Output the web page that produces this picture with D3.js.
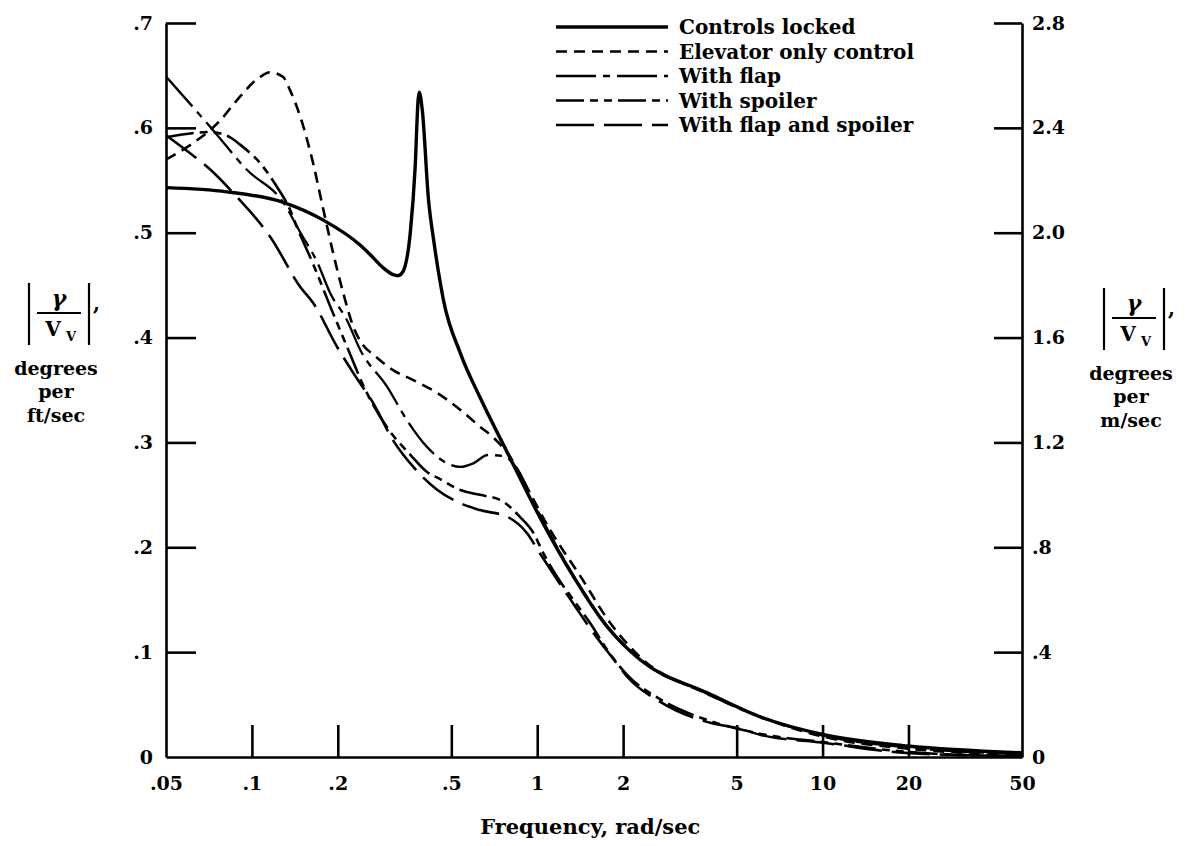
<!DOCTYPE html>
<html>
<head>
<meta charset="utf-8">
<script src="https://cdn.jsdelivr.net/npm/d3@7"></script>
<style>
  body { margin: 0; background: #fff; }
  svg { display: block; }
  .axis path, .axis line { stroke: #000; stroke-width: 2.6; }
</style>
</head>
<body>
<script>
// frequency (rad/sec) vs |gamma / V_V| (degrees per ft/sec)
var controlsLocked = [[0.05,0.543],[0.0818,0.539],[0.1287,0.529],[0.178,0.512],[0.24,0.488],[0.26,0.479],
  [0.29,0.466],[0.3125,0.460],[0.325,0.459],[0.337,0.462],[0.359,0.500],[0.3735,0.563],[0.3825,0.627],
  [0.386,0.634],[0.3955,0.617],[0.416,0.531],[0.4335,0.493],[0.4575,0.452],[0.469,0.436],[0.538,0.385],
  [0.63,0.343],[0.787,0.290],[1.02,0.229],[1.34,0.172],[1.76,0.124],[2.3,0.0925],[3.96,0.061],
  [6.08,0.038],[10.2,0.021],[19.9,0.0105],[50,0.004]];
var elevatorOnly = [[0.05,0.570],[0.0622,0.5855],[0.0774,0.607],[0.0887,0.6265],[0.1068,0.6485],[0.116,0.653],
  [0.1287,0.6485],[0.136,0.636],[0.148,0.610],[0.164,0.566],[0.178,0.522],[0.1925,0.481],[0.209,0.4425],
  [0.227,0.410],[0.245,0.393],[0.266,0.384],[0.3125,0.369],[0.368,0.3595],[0.447,0.347],[0.538,0.331],
  [0.63,0.315],[0.70,0.305],[0.80,0.287],[0.9,0.262],[1.11,0.2165],[1.42,0.172],[1.8,0.128],[2.3,0.095],
  [3.96,0.060],[6.08,0.038],[10.2,0.019],[19.9,0.008],[50,0.002]];
var withFlap = [[0.05,0.649],[0.073,0.598],[0.096,0.560],[0.1287,0.529],[0.148,0.50],[0.170,0.471],[0.188,0.4425],
  [0.215,0.417],[0.24,0.388],[0.298,0.353],[0.35,0.321],[0.41,0.296],[0.484,0.280],[0.538,0.2766],[0.597,0.280],
  [0.67,0.288],[0.76,0.287],[0.85,0.275],[1.0,0.236],[1.34,0.173],[1.76,0.125],[2.3,0.093],[3.96,0.060],
  [6.08,0.038],[10.2,0.020],[19.9,0.009],[50,0.003]];
var withSpoiler = [[0.05,0.591],[0.0713,0.596],[0.0839,0.591],[0.0909,0.584],[0.1068,0.5665],[0.1225,0.5436],
  [0.136,0.522],[0.144,0.505],[0.164,0.47],[0.188,0.43],[0.215,0.392],[0.25,0.35],[0.30,0.313],[0.36,0.288],
  [0.41,0.272],[0.457,0.265],[0.538,0.2546],[0.63,0.25],[0.743,0.245],[0.87,0.229],[0.97,0.2136],[1.05,0.1945],
  [1.175,0.1717],[1.34,0.1497],[1.53,0.128],[1.76,0.102],[2.07,0.078],[2.7,0.055],[4.07,0.034],[6.08,0.022],
  [10.2,0.014],[17.8,0.006],[30,0.002],[50,0.001]];
var flapAndSpoiler = [[0.05,0.593],[0.0606,0.576],[0.0713,0.5605],[0.0887,0.534],[0.1068,0.509],[0.116,0.496],
  [0.148,0.448],[0.164,0.433],[0.199,0.391],[0.227,0.366],[0.266,0.3376],[0.3125,0.302],[0.368,0.2766],
  [0.447,0.2546],[0.538,0.242],[0.63,0.2355],[0.787,0.229],[0.92,0.2136],[1.02,0.1945],[1.175,0.169],
  [1.34,0.146],[1.53,0.123],[1.86,0.0925],[2.07,0.0763],[2.7,0.0525],[4.07,0.0324],[5.0,0.0277],[6.08,0.021],
  [10.2,0.0134],[17.8,0.0048],[29,0.002],[50,0.001]];

var seriesNames = ["Controls locked", "Elevator only control", "With  flap", "With spoiler", "With flap and spoiler"];
var seriesData = [controlsLocked, elevatorOnly, withFlap, withSpoiler, flapAndSpoiler];

var xTicks = [0.05, 0.1, 0.2, 0.5, 1, 2, 5, 10, 20, 50];
var xTickLabels = [".05", ".1", ".2", ".5", "1", "2", "5", "10", "20", "50"];
var yTicks = [0, 0.1, 0.2, 0.3, 0.4, 0.5, 0.6, 0.7];
var yTickLabels = ["0", ".1", ".2", ".3", ".4", ".5", ".6", ".7"];
var yRightTicks = [0, 0.4, 0.8, 1.2, 1.6, 2.0, 2.4, 2.8];
var yRightTickLabels = ["0", ".4", ".8", "1.2", "1.6", "2.0", "2.4", "2.8"];

var width = 1190, height = 846;
var margin = {top: 23, right: 168, bottom: 89, left: 166};
var innerWidth = width - margin.left - margin.right;
var innerHeight = height - margin.top - margin.bottom;
var font = "DejaVu Serif, serif";

var styles = [
  {dash: null, w: 3.4},
  {dash: "11,7", w: 2.6},
  {dash: "40,7,7,7", w: 2.3},
  {dash: "28,6,8,6,8,6", w: 2.6},
  {dash: "38,10", w: 2.6}
];

var svg = d3.select("body").append("svg")
    .attr("width", width)
    .attr("height", height)
    .attr("font-family", font)
    .attr("font-weight", "bold");

var g = svg.append("g")
    .attr("transform", "translate(" + margin.left + "," + margin.top + ")");

//Scales
var x = d3.scaleLog().domain([0.05, 50]).range([0, innerWidth]);
var y = d3.scaleLinear().domain([0, 0.7]).range([innerHeight, 0]);
var yR = d3.scaleLinear().domain([0, 2.8]).range([innerHeight, 0]);

//Axes
var leftAxis = g.append("g")
    .attr("class", "axis")
    .call(d3.axisLeft(y).tickValues(yTicks).tickSizeInner(-30).tickSizeOuter(0).tickPadding(13)
      .tickFormat((d, i) => yTickLabels[i]));
leftAxis.selectAll(".tick line").filter(d => d === 0).remove();

var rightAxis = g.append("g")
    .attr("class", "axis")
    .attr("transform", "translate(" + innerWidth + ",0)")
    .call(d3.axisRight(yR).tickValues(yRightTicks).tickSizeInner(-28).tickSizeOuter(0).tickPadding(10)
      .tickFormat((d, i) => yRightTickLabels[i]));
rightAxis.selectAll(".tick line").filter(d => d === 0).remove();

var bottomAxis = g.append("g")
    .attr("class", "axis")
    .attr("transform", "translate(0," + innerHeight + ")")
    .call(d3.axisBottom(x).tickValues(xTicks).tickSizeInner(-32).tickSizeOuter(0).tickPadding(20)
      .tickFormat((d, i) => xTickLabels[i]));
bottomAxis.selectAll(".tick line").filter(d => d === 0.05 || d === 50).remove();

[leftAxis, rightAxis, bottomAxis].forEach(a => {
  a.attr("font-family", font).attr("font-size", 19).attr("font-weight", "bold");
  a.selectAll("text").attr("fill", "#000");
});

g.append("text")
    .attr("x", x(1) + 53)
    .attr("y", innerHeight + 77)
    .attr("text-anchor", "middle")
    .attr("font-size", 21)
    .text("Frequency, rad/sec");

//Curves
var line = d3.line()
    .x(d => x(d[0]))
    .y(d => y(d[1]))
    .curve(d3.curveMonotoneX);

g.selectAll(".curve")
    .data(seriesData)
  .enter().append("path")
    .attr("class", "curve")
    .attr("fill", "none")
    .attr("stroke", "#000")
    .attr("stroke-width", (d, i) => styles[i].w)
    .attr("stroke-dasharray", (d, i) => styles[i].dash)
    .attr("d", line);

//Legend
var legend = svg.append("g").attr("transform", "translate(556,27)");
var rows = legend.selectAll(".row")
    .data(seriesNames)
  .enter().append("g")
    .attr("transform", (d, i) => "translate(0," + (i * 24.5) + ")");
rows.append("line")
    .attr("x1", 0).attr("x2", 112)
    .attr("stroke", "#000")
    .attr("stroke-width", (d, i) => styles[i].w)
    .attr("stroke-dasharray", (d, i) => styles[i].dash);
rows.append("text")
    .attr("x", 123)
    .attr("dy", "0.35em")
    .attr("font-size", 20)
    .text(d => d);

//Y titles: |gamma / V_V|, degrees per ...
function yTitle(cx, top, unit) {
  var t = svg.append("g").attr("transform", "translate(" + cx + "," + top + ")");
  t.append("line").attr("x1", -30).attr("x2", -30).attr("y1", 0).attr("y2", 62)
    .attr("stroke", "#000").attr("stroke-width", 2.2);
  t.append("line").attr("x1", 30).attr("x2", 30).attr("y1", 0).attr("y2", 62)
    .attr("stroke", "#000").attr("stroke-width", 2.2);
  t.append("line").attr("x1", -22).attr("x2", 22).attr("y1", 30).attr("y2", 30)
    .attr("stroke", "#000").attr("stroke-width", 2.2);
  t.append("text").attr("x", 0).attr("y", 23).attr("text-anchor", "middle")
    .attr("font-size", 22).attr("font-style", "italic").text("γ");
  t.append("text").attr("x", -6).attr("y", 53).attr("text-anchor", "middle")
    .attr("font-size", 20).text("V");
  t.append("text").attr("x", 12).attr("y", 58).attr("text-anchor", "middle")
    .attr("font-size", 13).text("V");
  t.append("text").attr("x", 34).attr("y", 27).attr("font-size", 20).text(",");
  var lines = ["degrees", "per", unit];
  var base = [92, 115, 139];
  lines.forEach((s, i) => {
    t.append("text").attr("x", -3).attr("y", base[i]).attr("text-anchor", "middle")
      .attr("font-size", 19).text(s);
  });
}
yTitle(59, 283, "ft/sec");
yTitle(1134, 288, "m/sec");
</script>
</body>
</html>
